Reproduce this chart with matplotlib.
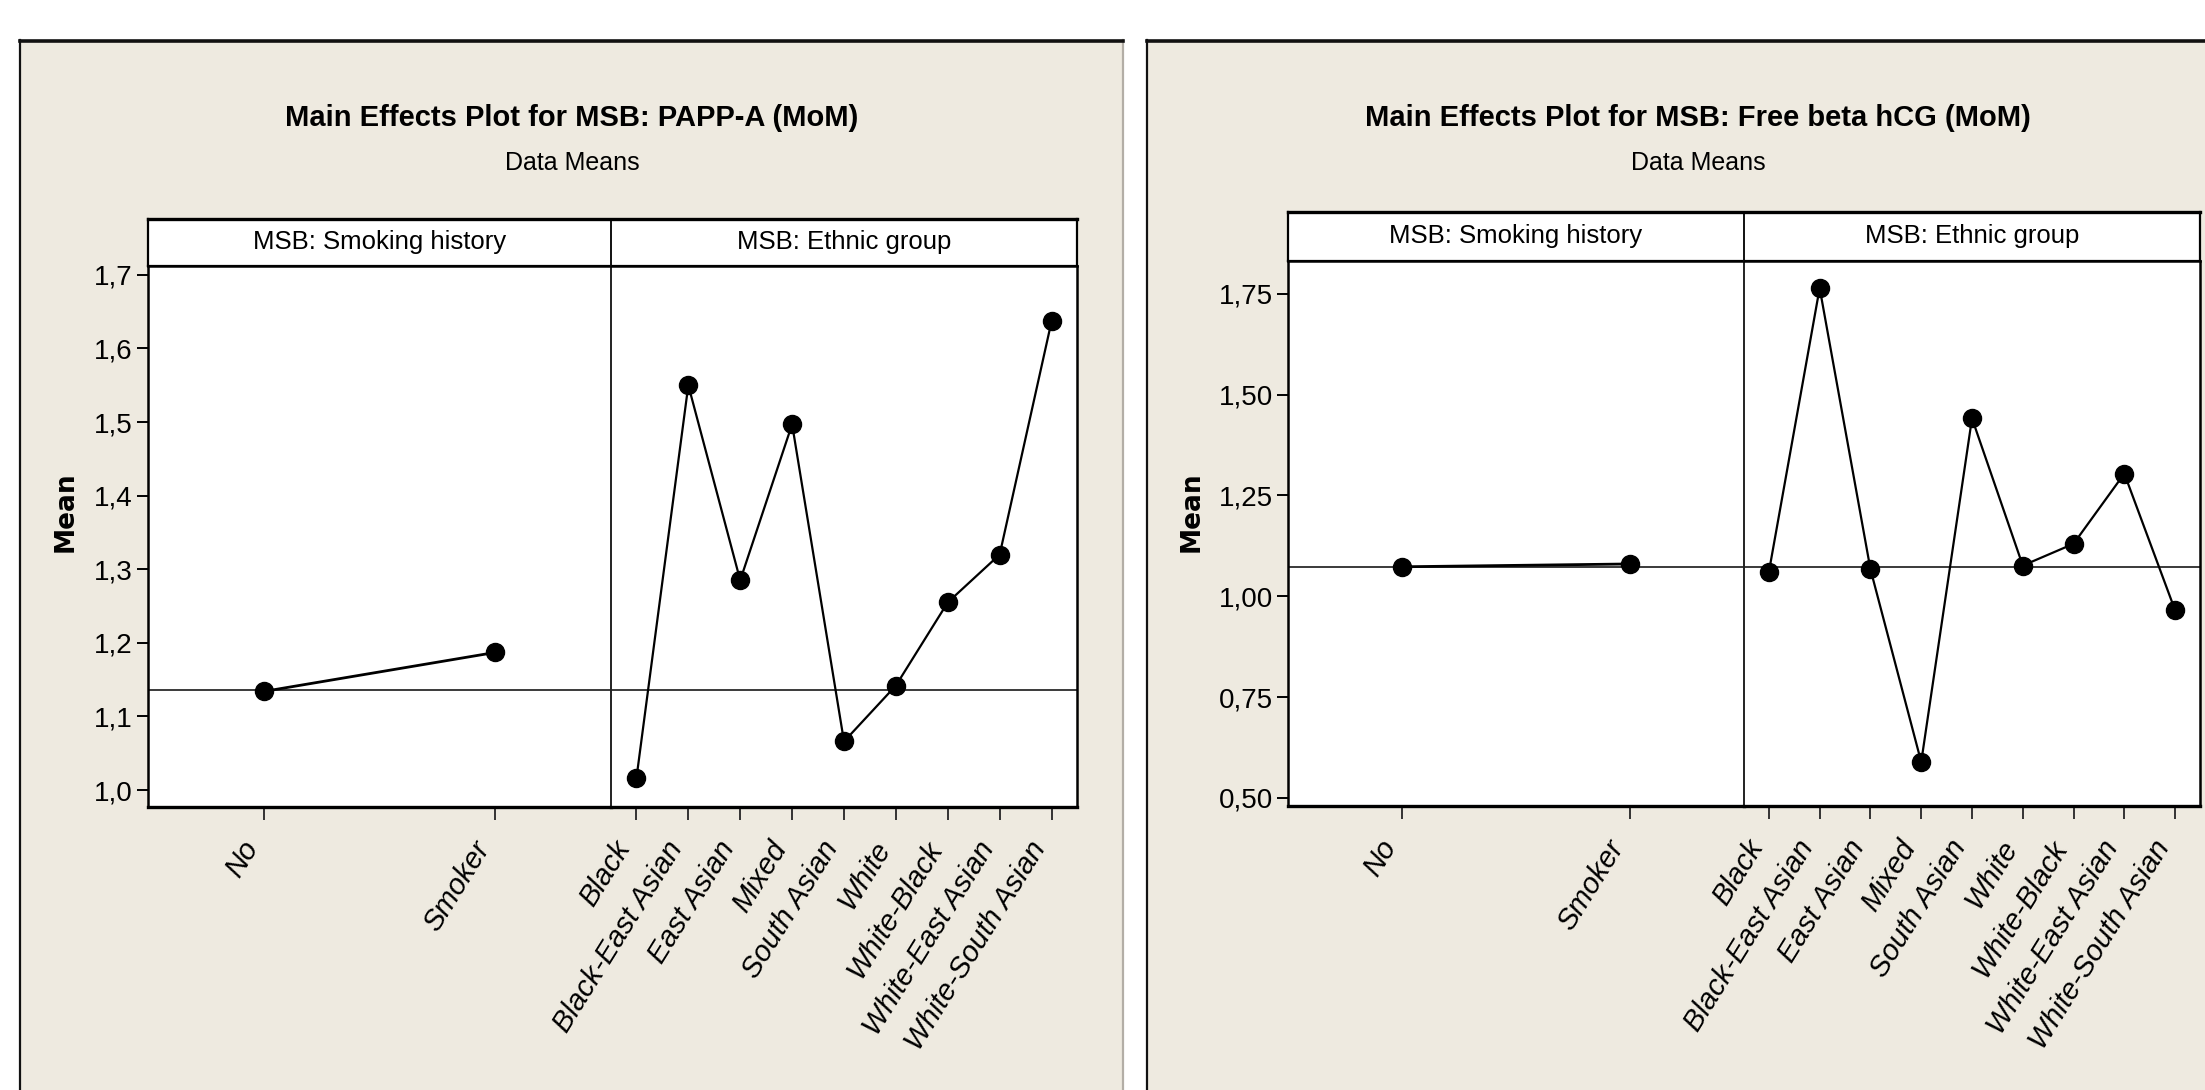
import numpy as np
from matplotlib import pyplot as plt
from matplotlib.patches import Rectangle
from matplotlib.lines import Line2D

# data
smoking = ['No', 'Smoker']
ethnic = ['Black', 'Black-East Asian', 'East Asian', 'Mixed', 'South Asian',
          'White', 'White-Black', 'White-East Asian', 'White-South Asian']

papp_smoking = [1.134, 1.187]
papp_ethnic = [1.016, 1.550, 1.285, 1.497, 1.066, 1.142, 1.255, 1.320, 1.637]
papp_mean = 1.136
papp_ticks = [1.0, 1.1, 1.2, 1.3, 1.4, 1.5, 1.6, 1.7]

hcg_smoking = [1.073, 1.080]
hcg_ethnic = [1.060, 1.764, 1.067, 0.589, 1.441, 1.076, 1.130, 1.304, 0.965]
hcg_mean = 1.0735
hcg_ticks = [0.50, 0.75, 1.00, 1.25, 1.50, 1.75]

W, H = 2205, 1090
BEIGE = '#eeeae0'

plt.rcParams['font.family'] = ['Liberation Sans', 'DejaVu Sans']

fig = plt.figure(figsize=(W / 100, H / 100), dpi=100)
fig.patch.set_facecolor('white')


def fx(x):
    return x / W


def fy(y):
    return 1 - y / H


def rect(x0, y0, x1, y1):
    return [fx(x0), fy(y1), (x1 - x0) / W, (y1 - y0) / H]


def frame(x0, x1, right_col):
    fig.patches.append(Rectangle((fx(x0), 0), fx(x1) - fx(x0), fy(40), transform=fig.transFigure,
                                 facecolor=BEIGE, edgecolor='none', zorder=-5))
    fig.lines.append(Line2D([fx(x0), fx(x0)], [0, fy(40)], transform=fig.transFigure, color='#111111',
                            lw=1.6, zorder=-4))
    if right_col:
        fig.lines.append(Line2D([fx(x1), fx(x1)], [0, fy(40)], transform=fig.transFigure, color=right_col,
                                lw=1.6, zorder=-4))
    fig.lines.append(Line2D([fx(x0), fx(x1)], [fy(41), fy(41)], transform=fig.transFigure, color='#111111',
                            lw=2.6, zorder=-4))


def chart(cfg):
    x0, xd, x1 = cfg['x']
    ys, yt, yb = cfg['y']

    fig.text(fx(cfg['cx']), fy(118), cfg['title'], ha='center', va='center', fontsize=21, fontweight='bold')
    fig.text(fx(cfg['cx']), fy(163), 'Data Means', ha='center', va='center', fontsize=18)

    # strip header
    st = fig.add_axes(rect(x0, ys, x1, yt))
    st.set_xlim(x0, x1)
    st.set_ylim(0, 1)
    st.set_xticks([])
    st.set_yticks([])
    for s in st.spines.values():
        s.set_linewidth(1.6)
    st.spines['top'].set_linewidth(2.4)
    st.axvline(xd, color='#111111', lw=1.4)
    st.text((x0 + xd) / 2, 0.5, 'MSB: Smoking history', ha='center', va='center', fontsize=18.5)
    st.text((xd + x1) / 2, 0.5, 'MSB: Ethnic group', ha='center', va='center', fontsize=18.5)

    ax1 = fig.add_axes(rect(x0, yt, xd, yb))
    ax2 = fig.add_axes(rect(xd, yt, x1, yb), sharey=ax1)

    ax1.plot(range(len(smoking)), cfg['smoking'], color='black', lw=2.0, marker='o', ms=13)
    ax2.plot(range(len(ethnic)), cfg['ethnic'], color='black', lw=1.6, marker='o', ms=13)
    for a in (ax1, ax2):
        a.axhline(cfg['mean'], color='#3a3a3a', lw=1.4, zorder=1)
        a.set_facecolor('white')
        for s in a.spines.values():
            s.set_linewidth(1.8)
            s.set_color('black')
        a.spines['bottom'].set_linewidth(2.4)
        a.tick_params(axis='x', length=9, width=1.4, color='#333333', pad=12)

    ax1.set_xlim(-0.5, 1.5)
    ax2.set_xlim(-0.49, 8.49)
    ax1.set_ylim(*cfg['ylim'])
    ax1.spines['right'].set_visible(False)
    ax2.spines['left'].set_linewidth(1.4)
    ax2.spines['left'].set_color('#222222')
    ax2.tick_params(axis='y', left=False, labelleft=False)

    ax1.set_yticks(cfg['ticks'])
    ax1.set_yticklabels([cfg['fmt'].format(t).replace('.', ',') for t in cfg['ticks']], fontsize=20)
    ax1.tick_params(axis='y', length=8, width=1.4, pad=3)

    ax1.set_xticks(range(len(smoking)))
    ax1.set_xticklabels(smoking, rotation=58, ha='right', va='top', fontsize=21, style='italic')
    ax2.set_xticks(range(len(ethnic)))
    ax2.set_xticklabels(ethnic, rotation=58, ha='right', va='top', fontsize=21, style='italic')

    fig.text(fx(cfg['ylx']), fy(512), 'Mean', rotation=90, ha='center', va='center',
             fontsize=19, fontweight='bold', family='DejaVu Sans')


frame(20, 1123, '#b3aea6')
frame(1147, 2240, None)

chart({'title': 'Main Effects Plot for MSB: PAPP-A (MoM)', 'cx': 572,
       'x': (148, 611, 1077), 'y': (219, 266, 807), 'ylx': 66,
       'smoking': papp_smoking, 'ethnic': papp_ethnic, 'mean': papp_mean,
       'ticks': papp_ticks, 'fmt': '{:.1f}', 'ylim': (0.977, 1.712)})

chart({'title': 'Main Effects Plot for MSB: Free beta hCG (MoM)', 'cx': 1698,
       'x': (1288, 1744, 2200), 'y': (212, 261, 806), 'ylx': 1192,
       'smoking': hcg_smoking, 'ethnic': hcg_ethnic, 'mean': hcg_mean,
       'ticks': hcg_ticks, 'fmt': '{:.2f}', 'ylim': (0.48, 1.831)})

fig.savefig('out.png', dpi=100, facecolor='white')
